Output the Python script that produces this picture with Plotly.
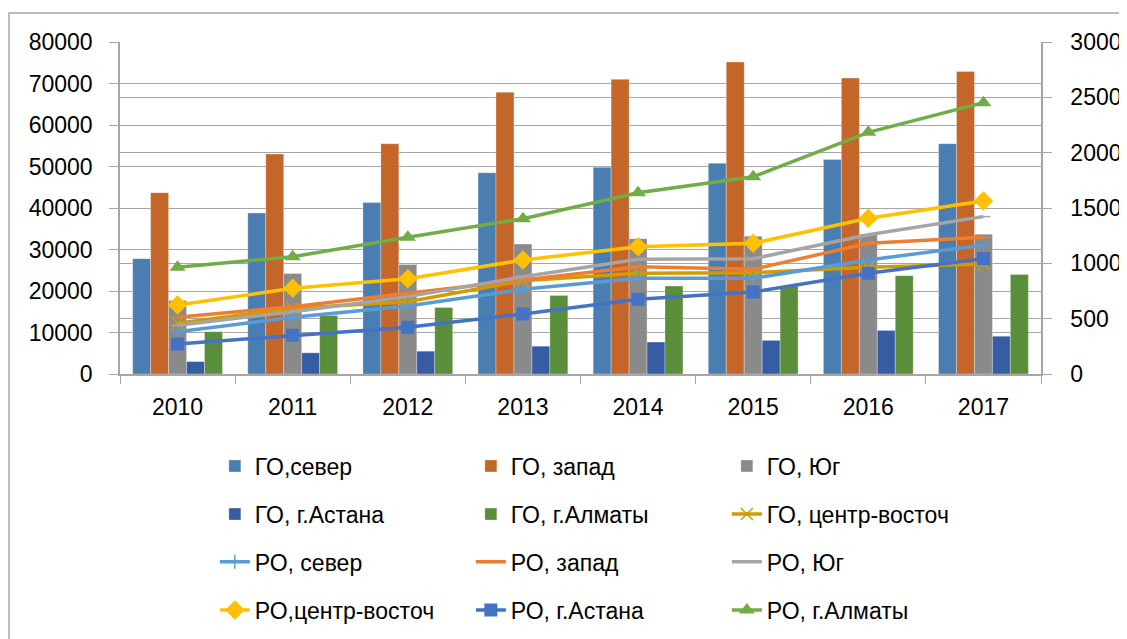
import plotly.graph_objects as go

years = ["2010", "2011", "2012", "2013", "2014", "2015", "2016", "2017"]

# ГО - столбцы, левая ось
go_sever = [27800, 38800, 41300, 48500, 49800, 50800, 51700, 55500]
go_zapad = [43700, 53000, 55500, 67900, 71000, 75200, 71300, 72900]
go_yug = [17700, 24200, 26400, 31300, 32600, 33200, 33600, 33700]
go_astana = [3000, 5100, 5500, 6700, 7700, 8100, 10500, 9100]
go_almaty = [10200, 14100, 16000, 18900, 21200, 21200, 23700, 24000]

# линии, правая ось
go_centr = [458, 594, 653, 843, 910, 915, 964, 994]
ro_sever = [382, 512, 614, 765, 865, 865, 1030, 1166]
ro_zapad = [512, 608, 729, 849, 970, 946, 1181, 1235]
ro_yug = [440, 563, 699, 879, 1036, 1042, 1259, 1422]
ro_centr = [623, 774, 861, 1030, 1150, 1181, 1407, 1563]
ro_astana = [271, 350, 422, 542, 675, 741, 910, 1042]
ro_almaty = [964, 1060, 1235, 1403, 1638, 1783, 2184, 2452]

FONT = "Liberation Sans"
GRID = "#a6a6a6"

fig = go.Figure()

bars = [
    ("ГО,север", go_sever, "#4a7eb0", "legend"),
    ("ГО, запад", go_zapad, "#c4662a", "legend"),
    ("ГО, Юг", go_yug, "#8a8a8a", "legend"),
    ("ГО, г.Астана", go_astana, "#365da4", "legend2"),
    ("ГО, г.Алматы", go_almaty, "#5a8e3a", "legend2"),
]
for name, vals, color, leg in bars:
    fig.add_trace(go.Bar(
        x=years, y=vals, name=name, legend=leg,
        marker=dict(color=color, line=dict(color="rgba(255,255,255,0.6)", width=0.5)),
    ))

lines = [
    ("ГО, центр-восточ", go_centr, "#d09d00", "x-thin", 12, "legend2"),
    ("РО, север", ro_sever, "#5b9bd5", "cross-thin", 10, "legend3"),
    ("РО, запад", ro_zapad, "#ed7d31", "line-ew", 10, "legend3"),
    ("РО, Юг", ro_yug, "#a5a5a5", "line-ew", 10, "legend3"),
    ("РО,центр-восточ", ro_centr, "#ffc000", "diamond", 15, "legend4"),
    ("РО, г.Астана", ro_astana, "#4472c4", "square", 13, "legend4"),
    ("РО, г.Алматы", ro_almaty, "#70ad47", "triangle-up", 14, "legend4"),
]
for name, vals, color, sym, size, leg in lines:
    thin = sym in ("x-thin", "cross-thin", "line-ew")
    fig.add_trace(go.Scatter(
        x=years, y=vals, name=name, yaxis="y2", legend=leg,
        mode="lines+markers",
        line=dict(color=color, width=3.5),
        marker=dict(symbol=sym, size=size, color=color,
                    line=dict(color=color, width=1.5 if thin else 0)),
    ))

leg_common = dict(
    orientation="h", x=0.103, xanchor="left", yanchor="middle",
    font=dict(family=FONT, size=23, color="#000000"),
    entrywidth=211, entrywidthmode="pixels",
    bgcolor="rgba(0,0,0,0)",
)

# страница имеет отступ 8px, поэтому фигура чуть меньше окна
fig.update_layout(
    width=1119, height=631,
    paper_bgcolor="white", plot_bgcolor="white",
    font=dict(family=FONT, size=23, color="#000000"),
    margin=dict(l=112, r=86, t=34, b=265, autoexpand=False),
    barmode="group", bargap=0.22, bargroupgap=0,
    xaxis=dict(
        type="category", showline=True, linecolor=GRID, linewidth=1.5,
        ticks="outside", tickson="boundaries", ticklen=8, tickcolor=GRID,
        showgrid=False, ticklabelstandoff=12,
    ),
    yaxis=dict(
        range=[0, 80000], dtick=10000, tickformat="d",
        showline=True, linecolor=GRID, linewidth=1.5,
        ticks="outside", ticklen=9, tickcolor=GRID,
        showgrid=True, gridcolor=GRID, gridwidth=1, zeroline=False,
        ticklabelstandoff=12,
    ),
    yaxis2=dict(
        range=[0, 3000], dtick=500, tickformat="d", overlaying="y", side="right",
        showline=True, linecolor=GRID, linewidth=1.5,
        ticks="outside", ticklen=9, tickcolor=GRID,
        showgrid=True, gridcolor=GRID, gridwidth=1, zeroline=False,
        ticklabelstandoff=14,
    ),
    legend=dict(leg_common, y=-0.277),
    legend2=dict(leg_common, y=-0.422),
    legend3=dict(leg_common, y=-0.566),
    legend4=dict(leg_common, y=-0.711),
    shapes=[dict(type="rect", xref="paper", yref="paper",
                 x0=-0.1205, x1=1.2, y0=-1.0, y1=1.087,
                 line=dict(color="#a6a6a6", width=1.5), layer="above")],
)

fig.write_html("out.html")
